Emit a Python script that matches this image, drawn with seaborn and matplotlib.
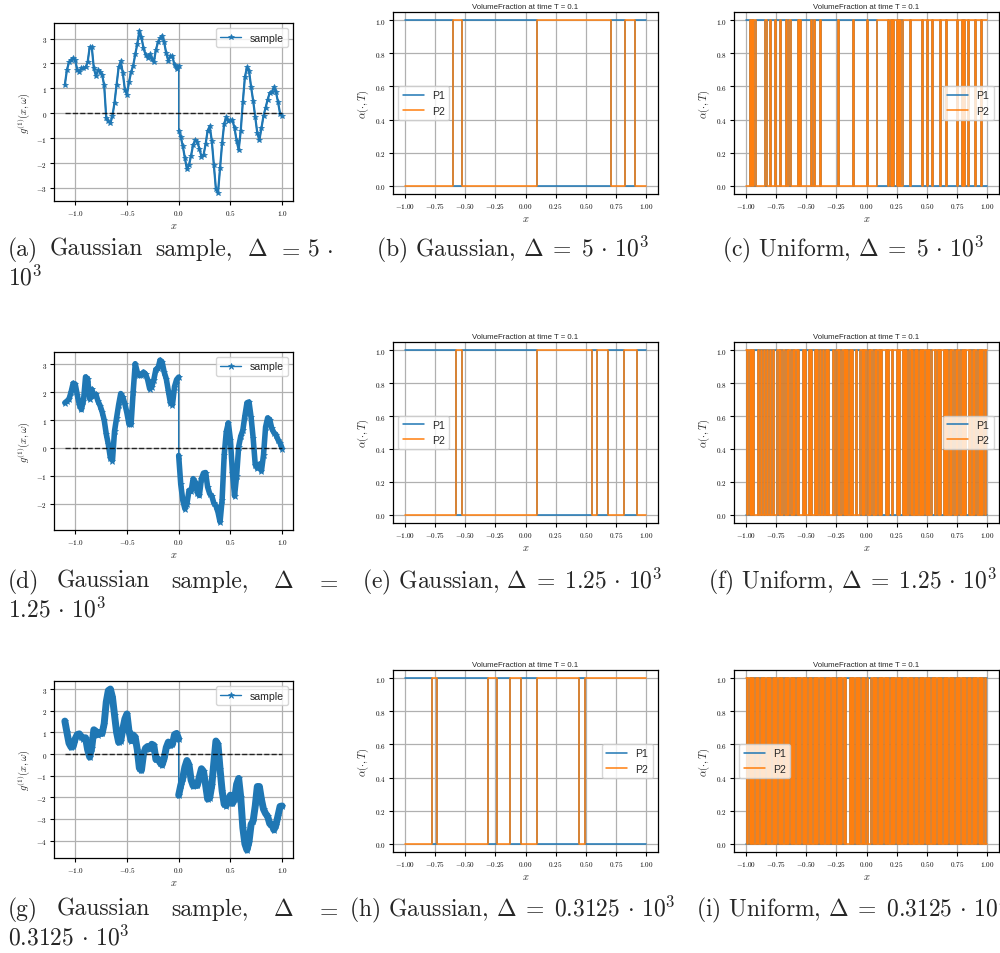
import numpy as np
import matplotlib
matplotlib.use("Agg")
import matplotlib.pyplot as plt
import seaborn as sns
from matplotlib.ticker import MultipleLocator, FuncFormatter

# ---------------- Gaussian samples g^(1)(x, w) ----------------
# sampled every 0.02 on [-1.1, 0] and on [0, 1] (jump at x = 0)
x_left = np.linspace(-1.1, 0.0, 56)
x_right = np.linspace(0.0, 1.0, 51)

g_a_left = [1.15, 1.74, 2.05, 2.15, 2.21, 2.12, 1.75, 1.65, 1.80, 1.80,
            1.84, 2.05, 2.65, 2.67, 1.80, 1.50, 1.72, 1.67, 1.55, 1.12,
            -0.19, -0.32, -0.40, -0.10, 0.43, 1.15, 1.85, 2.08, 1.62, 0.95,
            0.75, 1.25, 1.65, 1.90, 2.36, 2.78, 3.30, 3.05, 2.62, 2.35,
            2.22, 2.36, 2.18, 2.05, 2.55, 2.85, 3.02, 3.12, 2.85, 2.40,
            2.10, 2.30, 2.28, 1.92, 1.76, 1.90]
g_a_right = [-0.71, -0.95, -1.32, -1.80, -2.25, -2.08, -1.70, -1.26, -1.09, -1.15,
             -1.42, -1.74, -1.68, -1.25, -0.70, -0.52, -1.10, -2.08, -3.05, -3.20,
             -2.20, -1.20, -0.42, -0.15, -0.30, -0.29, -0.28, -0.60, -1.10, -1.48,
             -0.70, 0.45, 1.45, 1.84, 1.70, 1.05, 0.50, -0.15, -0.80, -1.08,
             -0.60, -0.10, 0.22, 0.55, 0.82, 0.84, 1.05, 0.85, 0.46, -0.02,
             -0.12]

g_d_left = [1.62, 1.68, 1.75, 2.00, 2.32, 2.29, 1.90, 1.55, 1.38, 1.70,
            2.55, 2.48, 1.76, 2.10, 1.88, 1.92, 1.68, 1.52, 1.30, 1.00,
            0.50, 0.13, -0.36, -0.45, 0.60, 1.08, 1.55, 1.95, 1.82, 1.58,
            1.25, 0.85, 0.85, 2.00, 3.02, 2.72, 2.60, 2.62, 2.72, 2.65,
            2.45, 2.12, 2.20, 2.45, 2.82, 2.85, 3.15, 3.08, 2.72, 2.48,
            2.05, 1.62, 1.55, 2.20, 2.45, 2.54]
g_d_right = [-0.27, -1.30, -1.88, -2.18, -2.00, -1.52, -1.55, -1.10, -1.22, -1.60,
             -1.70, -1.10, -0.90, -0.88, -1.40, -1.64, -1.72, -1.98, -2.07, -2.30,
             -2.65, -1.85, -0.25, 0.58, 0.90, 0.30, -0.90, -1.72, -1.00, 0.05,
             0.42, 0.63, 1.15, 1.62, 1.65, 1.10, 0.35, -0.60, -0.72, -0.58,
             -0.82, -0.25, 0.75, 1.08, 1.02, 0.70, 0.55, 0.48, 0.30, 0.18,
             -0.02]

g_g_left = [1.52, 1.00, 0.50, 0.32, 0.35, 0.70, 0.90, 0.93, 0.80, 0.71,
            0.75, 0.20, -0.14, 0.30, 1.12, 1.05, 0.90, 0.99, 0.95, 1.40,
            2.40, 2.93, 3.00, 2.62, 1.80, 1.00, 0.54, 0.60, 1.15, 1.62,
            1.85, 1.05, 0.62, 0.88, 0.78, 0.20, -0.65, -0.75, 0.00, 0.27,
            0.35, 0.25, 0.45, 0.40, -0.25, -0.22, -0.40, -0.50, -0.20, 0.30,
            0.55, 0.40, 0.45, 0.90, 0.95, 0.70]
g_g_right = [-1.90, -1.45, -1.10, -0.60, -0.30, -0.50, -1.20, -1.47, -1.45, -1.45,
             -1.05, -0.68, -0.80, -1.42, -2.08, -2.02, -1.45, -0.40, 0.60, 0.45,
             -0.70, -1.70, -2.32, -2.38, -2.13, -1.90, -2.28, -2.10, -1.40, -1.13,
             -2.00, -3.40, -4.15, -4.43, -4.05, -3.25, -3.08, -2.40, -1.50, -1.50,
             -2.10, -2.55, -2.75, -2.88, -3.22, -3.25, -3.50, -3.28, -2.85, -2.42,
             -2.40]

# ---------------- Volume fraction of phase P1 at T = 0.1 ----------------
# Gaussian runs: positions where P1 flips (P1 = 1 at x = -1)
switch_b = [-0.606, -0.531, 0.095, 0.710, 0.826, 0.906]
switch_e = [-0.578, -0.531, 0.095, 0.556, 0.597, 0.688, 0.818, 0.923]
switch_h = [-0.774, -0.738, -0.310, -0.236, -0.126, -0.034, 0.095, 0.440, 0.495]

# Uniform runs: P1 state per cell of a 200-cell mesh on [-1, 1]
cells_c = ("1110101011" "1111110111" "0111011101" "1110110111" "1110101111"
           "1111010111" "1011111111" "1111110111" "1111111110" "1111111111"
           "0111111110" "0000000010" "1010010101" "0000001000" "0000001000"
           "1000100000" "0100001000" "0000010001" "0100100000" "1000010000")
cells_f = ("0101010111" "0101101011" "0101110101" "1011010110" "1010111010"
           "1101011010" "1011010101" "1101101011" "0101010101" "1011101010"
           "1101011010" "1010001010" "0100010100" "1010100101" "0101010101"
           "0101000101" "0100101010" "1001010010" "1010010101" "0010101010")
cells_i = ("0101010101" "0101010101" "0101010101" "0101010101" "0101010101"
           "0101010101" "0101010101" "0101010101" "0101110101" "0101010101"
           "0111010101" "0101010101" "0101010101" "0101010101" "0101010101"
           "0101010101" "0101010101" "0101010101" "0101010101" "0101010101")

deltas = ["5", "1.25", "0.3125"]
vf_title = "VolumeFraction at time T = 0.1"

C_BLUE = "#1f77b4"
C_ORANGE = "#ff7f0e"

sns.set_theme(style="ticks")
plt.rcParams.update({
    "font.family": ["Liberation Sans", "DejaVu Sans"],
    "mathtext.fontset": "cm",
    "axes.edgecolor": "black",
    "axes.linewidth": 0.9,
    "axes.grid": True,
    "grid.color": "#b0b0b0",
    "grid.linewidth": 0.9,
    "grid.linestyle": "-",
    "xtick.color": "black",
    "ytick.color": "black",
    "xtick.major.size": 3,
    "ytick.major.size": 3,
    "xtick.major.width": 0.8,
    "ytick.major.width": 0.8,
    "xtick.major.pad": 2,
    "ytick.major.pad": 2,
    "xtick.direction": "out",
    "ytick.direction": "out",
    "legend.frameon": True,
    "legend.framealpha": 0.8,
    "legend.edgecolor": "0.8",
    "legend.fancybox": True,
})

W, H = 1000, 954
fig = plt.figure(figsize=(W / 100, H / 100), dpi=100)
fig.patch.set_facecolor("white")


def add_ax(x0, y0, x1, y1):
    return fig.add_axes([x0 / W, 1 - y1 / H, (x1 - x0) / W, (y1 - y0) / H])


def math_fmt(nd):
    return FuncFormatter(lambda v, p: "$%s$" % (f"{v:.{nd}f}"))


def style_ticks(ax, xnd, ynd):
    ax.xaxis.set_major_formatter(math_fmt(xnd))
    ax.yaxis.set_major_formatter(math_fmt(ynd))
    ax.tick_params(labelsize=5.2)
    for s in ax.spines.values():
        s.set_visible(True)
        s.set_color("black")


def draw_sample(ax, yl, yr, ms, band_lw):
    xs = np.concatenate([x_left, x_right])
    ys = np.concatenate([yl, yr])
    if band_lw > 0:
        # densely sampled path: a thick stroke under the starred markers,
        # one per side so that the jump at x = 0 stays a thin line
        for bx, by in ((x_left, yl), (x_right, yr)):
            sns.lineplot(x=bx, y=by, ax=ax, estimator=None, sort=False,
                         color=C_BLUE, lw=band_lw, solid_joinstyle="round",
                         solid_capstyle="round")
    sns.lineplot(x=xs, y=ys, ax=ax, estimator=None, sort=False, color=C_BLUE,
                 lw=1.0, marker="*", markersize=ms, markeredgewidth=0.5,
                 markeredgecolor=C_BLUE, label="sample")
    sns.lineplot(x=[x_left[0], x_right[-1]], y=[0, 0], ax=ax, estimator=None,
                 sort=False, color="black", lw=1.0, linestyle="--", alpha=0.8,
                 zorder=3)
    ax.xaxis.set_major_locator(MultipleLocator(0.5))
    ax.yaxis.set_major_locator(MultipleLocator(1))
    style_ticks(ax, 1, 0)
    ax.set_xlabel("$x$", fontsize=7.5, labelpad=2)
    ax.set_ylabel(r"$g^{(1)}(x,\omega)$", fontsize=7.5, labelpad=3)
    ax.legend(loc="upper right", fontsize=7.6, handlelength=2.0)


def draw_vf(ax, xs, p1, legend_loc):
    p1 = np.asarray(p1, dtype=float)
    sns.lineplot(x=xs, y=p1, ax=ax, estimator=None, sort=False, color=C_BLUE,
                 lw=1.1, drawstyle="steps-post", label="P1")
    sns.lineplot(x=xs, y=1 - p1, ax=ax, estimator=None, sort=False, color=C_ORANGE,
                 lw=1.1, drawstyle="steps-post", label="P2")
    ax.set_xlim(-1.1, 1.1)
    ax.set_ylim(-0.05, 1.05)
    ax.xaxis.set_major_locator(MultipleLocator(0.25))
    ax.yaxis.set_major_locator(MultipleLocator(0.2))
    style_ticks(ax, 2, 1)
    ax.set_title(vf_title, fontsize=5.6, pad=3)
    ax.set_xlabel("$x$", fontsize=7.5, labelpad=2)
    ax.set_ylabel(r"$\alpha(\cdot,T)$", fontsize=7.5, labelpad=3)
    ax.legend(loc=legend_loc, fontsize=7.6, handlelength=2.0)


def from_switches(sw):
    xs = [-1.0] + list(sw) + [1.0]
    p1 = [1 - (i % 2) for i in range(len(sw) + 1)]
    p1.append(p1[-1])
    return np.array(xs), p1


def from_cells(cells):
    xs = np.linspace(-1.0, 1.0, len(cells) + 1)
    p1 = [int(c) for c in cells] + [int(cells[-1])]
    return xs, p1


# ---- row 1
ax_a = add_ax(54, 24, 293, 202)
draw_sample(ax_a, g_a_left, g_a_right, 4.0, 1.6)
ax_b = add_ax(393, 13, 658, 195)
draw_vf(ax_b, *from_switches(switch_b), "center left")
ax_c = add_ax(734, 13, 999, 195)
draw_vf(ax_c, *from_cells(cells_c), "center right")

# ---- row 2
ax_d = add_ax(54, 353, 293, 531)
draw_sample(ax_d, g_d_left, g_d_right, 4.5, 4.0)
ax_e = add_ax(393, 343, 658, 524)
draw_vf(ax_e, *from_switches(switch_e), "center left")
ax_f = add_ax(734, 343, 999, 524)
draw_vf(ax_f, *from_cells(cells_f), "center right")

# ---- row 3
ax_g = add_ax(54, 682, 293, 859)
draw_sample(ax_g, g_g_left, g_g_right, 5.0, 5.0)
ax_h = add_ax(393, 671, 658, 853)
draw_vf(ax_h, *from_switches(switch_h), "center right")
ax_i = add_ax(734, 671, 999, 853)
draw_vf(ax_i, *from_cells(cells_i), "center left")

# ---------------- captions ----------------
CAP = dict(fontfamily="cmr10", fontsize=17, va="baseline", ha="left")


def ftext(xp, yp, s):
    fig.text(xp / W, 1 - yp / H, s, **CAP)


rows_base = [256, 588, 916]
letters = [("a", "b", "c"), ("d", "e", "f"), ("g", "h", "i")]
mid_x = [376, 362, 349]
right_x = [722, 708, 696]

for r, (base, (la, lb, lc), d) in enumerate(zip(rows_base, letters, deltas)):
    # justified two-line caption of the sample panel
    if r == 0:
        words = [(8, "(%s)" % la), (50, "Gaussian"), (155, "sample,"),
                 (247, r"$\Delta$"), (277, "$=$"), (307, "$5$"), (326, r"$\cdot$")]
        second = r"$10^3$"
    else:
        words = [(8, "(%s)" % la), (57, "Gaussian"), (171, "sample,"),
                 (273, r"$\Delta$"), (315, "$=$")]
        second = r"$%s\,\cdot\,10^3$" % d
    for xp, w in words:
        ftext(xp, base, w)
    ftext(8, base + 29, second)
    ftext(mid_x[r], base, r"(%s) Gaussian, $\Delta\;=\;%s\,\cdot\,10^3$" % (lb, d))
    ftext(right_x[r], base, r"(%s) Uniform, $\Delta\;=\;%s\,\cdot\,10^3$" % (lc, d))

fig.savefig("out.png", dpi=100, facecolor="white")
